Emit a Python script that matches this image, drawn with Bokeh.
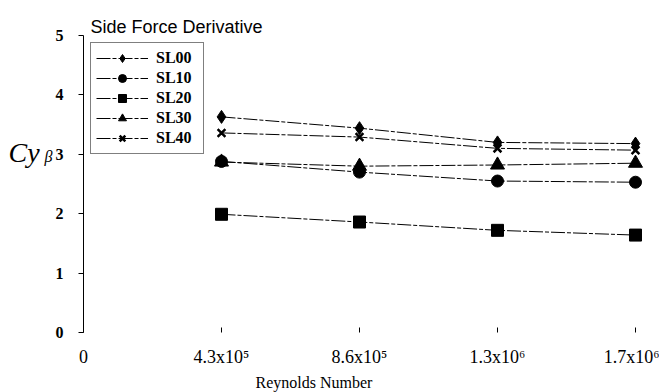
from bokeh.plotting import figure
from bokeh.models import Range1d, FixedTicker, Legend, LegendItem, Label
from bokeh.embed import file_html
from bokeh.resources import INLINE

# ---- data ----
tick_labels = ["0", "4.3x10\u2075", "8.6x10\u2075", "1.3x10\u2076", "1.7x10\u2076"]
tick_pos = [0, 1, 2, 3, 4]
x_pts = [1, 2, 3, 4]
sl00 = [3.63, 3.44, 3.20, 3.18]
sl10 = [2.88, 2.70, 2.55, 2.53]
sl20 = [1.99, 1.86, 1.72, 1.64]
sl30 = [2.87, 2.80, 2.82, 2.85]
sl40 = [3.36, 3.29, 3.10, 3.07]
series_names = ["SL00", "SL10", "SL20", "SL30", "SL40"]

W, H = 659, 392
X0PX, XSTEP = 83, 138.0      # canvas x of x=0, px per category
Y0PX, YSTEP = 332, 59.4      # canvas y of y=0, px per unit

p = figure(width=W, height=H, output_backend="svg", toolbar_location=None,
           x_range=Range1d(-X0PX / XSTEP, (W - X0PX) / XSTEP),
           y_range=Range1d(-(H - Y0PX) / YSTEP, Y0PX / YSTEP),
           min_border_left=0, min_border_right=0, min_border_top=0, min_border_bottom=0)
p.outline_line_color = None
p.xgrid.visible = False
p.ygrid.visible = False
p.background_fill_color = "white"

SERIF = "Liberation Serif"

# y axis
p.yaxis.fixed_location = 0
p.yaxis.bounds = (0, 5)
p.yaxis.ticker = FixedTicker(ticks=[0, 1, 2, 3, 4, 5])
p.yaxis.axis_line_color = "black"
p.yaxis.major_tick_out = 5
p.yaxis.major_tick_in = 0
p.yaxis.minor_tick_line_color = None
p.yaxis.major_label_text_font = SERIF
p.yaxis.major_label_text_font_size = "16px"
p.yaxis.major_label_text_font_style = "bold"
p.yaxis.major_label_text_color = "black"
p.yaxis.major_label_standoff = 15

# x axis
p.xaxis.fixed_location = 0
p.xaxis.bounds = (0, 4)
p.xaxis.ticker = FixedTicker(ticks=tick_pos)
p.xaxis.major_label_overrides = {t: l for t, l in zip(tick_pos, tick_labels)}
p.xaxis.axis_line_color = None
p.xaxis.major_tick_out = 0
p.xaxis.major_tick_in = 5
p.xaxis.minor_tick_line_color = None
p.xaxis.major_label_text_font = SERIF
p.xaxis.major_label_text_font_size = "18px"
p.xaxis.major_label_text_color = "black"
p.xaxis.major_label_standoff = 14

dash = "14 2 4 2"
series = [sl00, sl10, sl20, sl30, sl40]
markers = ["diamond", "circle", "square", "triangle", "x"]
sizes = [13, 12, 12, 14, 11]
items = []
for name, ys, mk, sz in zip(series_names, series, markers, sizes):
    ln = p.line(x_pts, ys, line_color="black", line_width=1, line_dash=dash)
    if mk == "x":
        sc = p.scatter(x_pts, ys, marker=mk, size=sz, line_color="black", line_width=2.5)
    else:
        sc = p.scatter(x_pts, ys, marker=mk, size=sz, fill_color="black", line_color="black")
    items.append(LegendItem(label=name, renderers=[ln, sc]))

legend = Legend(items=items, location=(90, H - 154), padding=5, spacing=0,
                glyph_width=52, glyph_height=20, label_height=20, label_width=42,
                label_standoff=8, margin=0,
                label_text_font=SERIF, label_text_font_size="16px", label_text_font_style="bold",
                label_text_color="black",
                border_line_color="black", border_line_width=1,
                background_fill_color="white", background_fill_alpha=1)
p.add_layout(legend, "center")

# texts
p.add_layout(Label(x=(90 - X0PX) / XSTEP, y=(Y0PX - 26) / YSTEP, text="Side Force Derivative",
                   text_font="Liberation Sans", text_font_size="18px", text_color="black",
                   text_baseline="alphabetic"))
p.add_layout(Label(x=(8 - X0PX) / XSTEP, y=(Y0PX - 152) / YSTEP, text="Cy", text_font=SERIF,
                   text_font_style="italic", text_font_size="28px", text_color="black",
                   text_baseline="alphabetic"))
p.add_layout(Label(x=(44 - X0PX) / XSTEP, y=(Y0PX - 156) / YSTEP, text="\u03b2", text_font=SERIF,
                   text_font_style="italic", text_font_size="16px", text_color="black",
                   text_baseline="alphabetic"))
p.add_layout(Label(x=(255 - X0PX) / XSTEP, y=(Y0PX - 382) / YSTEP, text="Reynolds Number",
                   text_font=SERIF, text_font_size="16px", text_color="black",
                   text_baseline="alphabetic"))

open("out.html", "w").write(file_html(p, INLINE))
